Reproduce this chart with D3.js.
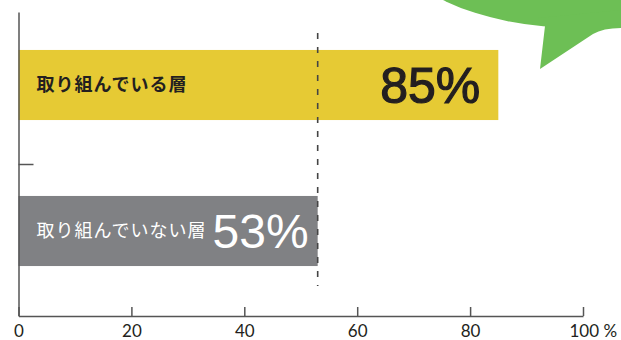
<!DOCTYPE html>
<html>
<head>
<meta charset="utf-8">
<script src="https://cdn.jsdelivr.net/npm/d3@7"></script>
<style>
  body { margin: 0; background: #fff; }
  svg { display: block; }
</style>
</head>
<body>
<div id="chart"></div>
<script>
// Chart data
var categories = ["取り組んでいる層", "取り組んでいない層"];
var values = [85, 53];
var valueLabels = ["85%", "53%"];
var xTicks = [0, 20, 40, 60, 80, 100];

var svgWidth = 621;
var svgHeight = 340;

var barColors = ["#e6ca34", "#808184"];
var textColors = ["#231f20", "#ffffff"];
var labelInset = [18, 9];

var svg = d3.select("#chart")
  .append("svg")
  .attr("width", svgWidth)
  .attr("height", svgHeight);

// Scales
var xScale = d3.scaleLinear()
  .domain([0, 100])
  .range([18.5, 583]);

var yScale = d3.scaleBand()
  .domain(categories)
  .range([12, 304])
  .paddingInner(0.52)
  .paddingOuter(0.26);

var yAxisScale = d3.scaleLinear()
  .domain([0, 1])
  .range([316, 12]);

// Green speech bubble in the corner
var bubble = svg.append("g").attr("fill", "#6dbf55");
bubble.append("ellipse")
  .attr("cx", 580)
  .attr("cy", -62)
  .attr("rx", 189)
  .attr("ry", 90);
bubble.append("path")
  .attr("d", "M538,18 L545,26 L540,69 L593,34 Q603,28 621,28 L621,10 Z");

// Bars
svg.selectAll("rect.bar")
  .data(values)
  .enter()
  .append("rect")
  .attr("class", "bar")
  .attr("x", xScale(0))
  .attr("y", (d, i) => yScale(categories[i]))
  .attr("width", d => xScale(d) - xScale(0))
  .attr("height", yScale.bandwidth())
  .attr("fill", (d, i) => barColors[i]);

// Dashed reference line at the lower value
svg.append("line")
  .attr("x1", xScale(values[1]))
  .attr("x2", xScale(values[1]))
  .attr("y1", 33)
  .attr("y2", 286)
  .attr("stroke", "#444")
  .attr("stroke-width", 1.6)
  .attr("stroke-dasharray", "6,8");

// Category labels inside the bars
svg.selectAll("text.cat")
  .data(categories)
  .enter()
  .append("text")
  .attr("class", "cat")
  .attr("x", xScale(0) + 18)
  .attr("y", d => yScale(d) + yScale.bandwidth() / 2)
  .attr("dy", "0.36em")
  .attr("fill", (d, i) => textColors[i])
  .attr("font-family", "'Noto Sans CJK JP', sans-serif")
  .attr("font-weight", (d, i) => i === 0 ? 700 : 400)
  .attr("font-size", "18px")
  .attr("letter-spacing", "1px")
  .text(d => d);

// Big percentage labels
svg.selectAll("text.val")
  .data(values)
  .enter()
  .append("text")
  .attr("class", "val")
  .attr("x", (d, i) => xScale(d) - labelInset[i])
  .attr("y", (d, i) => yScale(categories[i]) + yScale.bandwidth() / 2)
  .attr("dy", "0.36em")
  .attr("text-anchor", "end")
  .attr("fill", (d, i) => textColors[i])
  .attr("stroke", (d, i) => i === 0 ? textColors[i] : "none")
  .attr("stroke-width", 1.2)
  .attr("font-family", "'Liberation Sans', Arial, sans-serif")
  .attr("font-size", (d, i) => i === 0 ? "50px" : "48px")
  .text((d, i) => valueLabels[i]);

// Bottom axis
var bottomAxis = d3.axisBottom(xScale)
  .tickValues(xTicks)
  .tickSizeInner(-9)
  .tickSizeOuter(0)
  .tickPadding(9)
  .tickFormat(d => d === 100 ? "100 %" : d);

var xAxisG = svg.append("g")
  .attr("transform", "translate(0," + yAxisScale(0) + ")")
  .call(bottomAxis);

xAxisG.select(".domain").attr("stroke", "#555").attr("stroke-width", 1.5);
xAxisG.selectAll(".tick line").attr("stroke", "#555").attr("stroke-width", 1.5);
xAxisG.selectAll(".tick text")
  .attr("fill", "#231f20")
  .attr("font-family", "Lato, sans-serif")
  .attr("font-size", "17px");
xAxisG.selectAll(".tick text")
  .filter(d => d === 100)
  .attr("text-anchor", "start")
  .attr("dx", -14);

// Left axis with a single inward tick
var leftAxis = d3.axisLeft(yAxisScale)
  .tickValues([0.5])
  .tickSizeInner(-15)
  .tickSizeOuter(0)
  .tickFormat("");

var yAxisG = svg.append("g")
  .attr("transform", "translate(" + xScale(0) + ",0)")
  .call(leftAxis);

yAxisG.select(".domain").attr("stroke", "#555").attr("stroke-width", 1.5);
yAxisG.selectAll(".tick line").attr("stroke", "#555").attr("stroke-width", 1.5);
</script>
</body>
</html>
